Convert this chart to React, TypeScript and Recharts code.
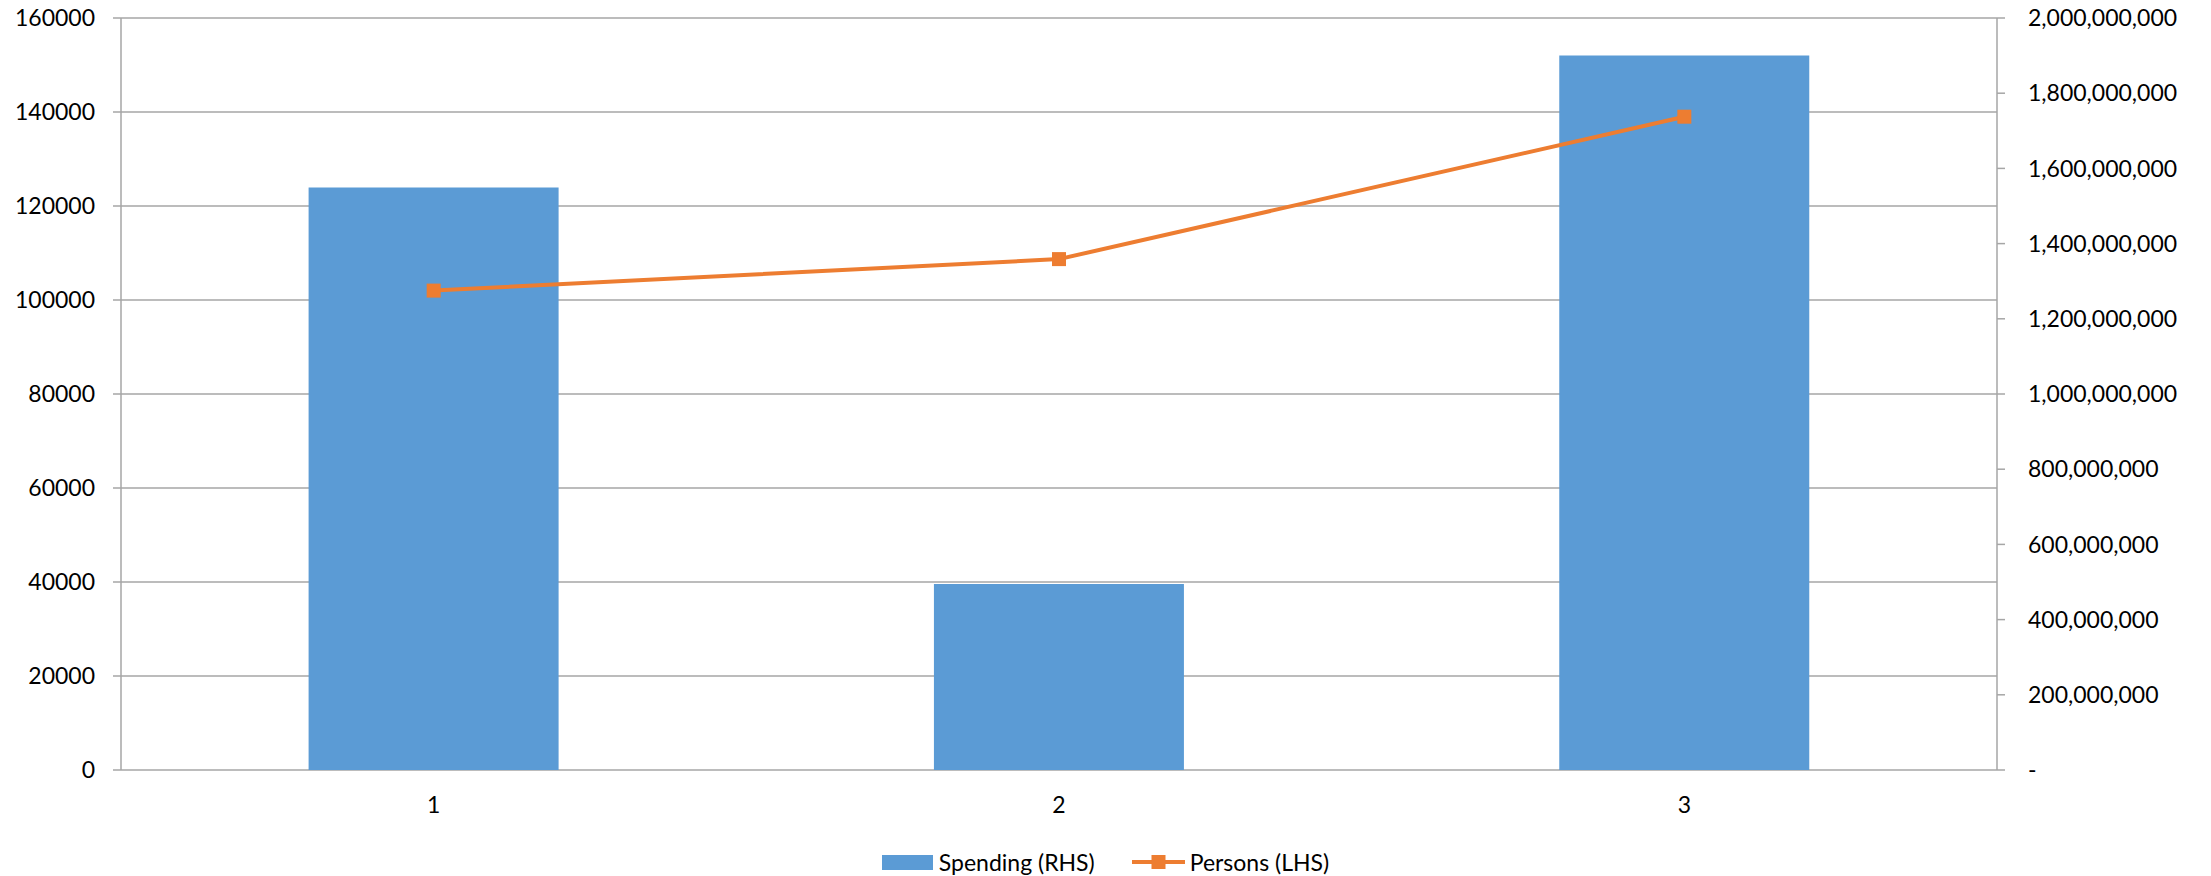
import React from 'react';
import {
  ComposedChart,
  Bar,
  Line,
  XAxis,
  YAxis,
  CartesianGrid,
  Legend,
} from 'recharts';

// Period labels along the bottom axis
const categories = ['1', '2', '3'];
// Spending, plotted against the right-hand axis
const spending = [1549000000, 495000000, 1900000000];
// Persons, plotted against the left-hand axis
const persons = [102000, 108700, 139000];

const leftTicks = [0, 20000, 40000, 60000, 80000, 100000, 120000, 140000, 160000];
const rightTicks = [
  0, 200000000, 400000000, 600000000, 800000000, 1000000000, 1200000000, 1400000000,
  1600000000, 1800000000, 2000000000,
];
// Category boundaries where the bottom axis carries its tick marks
const edgeTicks = [0.5, 1.5, 2.5, 3.5];

const SPENDING_NAME = 'Spending (RHS)';
const PERSONS_NAME = 'Persons (LHS)';

const data = categories.map((name, i) => ({
  name,
  spending: spending[i],
  persons: persons[i],
}));

const FONT = 'Lato, "Open Sans", sans-serif';
const BLUE = '#5B9BD5';
const ORANGE = '#ED7D31';
const GRID = '#a6a6a6';

const tickStyle = { fontFamily: FONT, fontSize: 23, fill: '#000' };

const formatRight = (v: number) => (v === 0 ? '-' : v.toLocaleString('en-US'));

const SquareDot = (props: any) => {
  const { cx, cy, index } = props;
  if (cx == null || cy == null) return <g key={`d${index}`} />;
  return <rect key={`d${index}`} x={cx - 7} y={cy - 7} width={14} height={14} fill={ORANGE} />;
};

const LegendContent = () => (
  <div
    style={{
      display: 'flex',
      justifyContent: 'center',
      alignItems: 'center',
      fontFamily: FONT,
      fontSize: 23,
      color: '#000',
      height: 30,
      lineHeight: '30px',
    }}
  >
    <svg width={51} height={15} style={{ display: 'block' }}>
      <rect x={0} y={0} width={51} height={15} fill={BLUE} />
    </svg>
    <span style={{ marginLeft: 6 }}>{SPENDING_NAME}</span>
    <svg width={53} height={16} style={{ display: 'block', marginLeft: 37 }}>
      <line x1={0} y1={8} x2={53} y2={8} stroke={ORANGE} strokeWidth={4} />
      <rect x={19.5} y={1} width={14} height={14} fill={ORANGE} />
    </svg>
    <span style={{ marginLeft: 5 }}>{PERSONS_NAME}</span>
  </div>
);

export default function App() {
  return (
    <div style={{ position: 'absolute', left: 0, top: 0, background: '#fff' }}>
      <ComposedChart
        width={2211}
        height={876}
        data={data}
        margin={{ top: 18, right: 0, left: 0, bottom: 16 }}
        barCategoryGap="30%"
      >
        <CartesianGrid
          yAxisId="left"
          vertical={false}
          stroke={GRID}
          strokeWidth={1.5}
        />
        <XAxis
          xAxisId="edges"
          type="number"
          domain={[0.5, 3.5]}
          ticks={edgeTicks}
          tick={false}
          tickSize={8}
          tickLine={{ stroke: GRID, strokeWidth: 1.5 }}
          axisLine={{ stroke: GRID, strokeWidth: 1.5 }}
          height={0}
          allowDataOverflow
        />
        <XAxis
          dataKey="name"
          tick={tickStyle}
          tickLine={false}
          tickSize={0}
          tickMargin={27}
          axisLine={false}
          height={60}
          interval={0}
        />
        <YAxis
          yAxisId="left"
          domain={[0, 160000]}
          ticks={leftTicks}
          interval={0}
          width={121}
          tick={tickStyle}
          tickSize={8}
          tickMargin={18}
          tickLine={{ stroke: GRID, strokeWidth: 1.5 }}
          axisLine={{ stroke: GRID, strokeWidth: 1.5 }}
        />
        <YAxis
          yAxisId="right"
          orientation="right"
          domain={[0, 2000000000]}
          ticks={rightTicks}
          interval={0}
          width={214}
          tick={{ ...tickStyle, textAnchor: 'start' }}
          tickFormatter={formatRight}
          tickSize={8}
          tickMargin={23}
          tickLine={{ stroke: GRID, strokeWidth: 1.5 }}
          axisLine={{ stroke: GRID, strokeWidth: 1.5 }}
        />
        <Bar
          yAxisId="right"
          dataKey="spending"
          name={SPENDING_NAME}
          fill={BLUE}
          isAnimationActive={false}
        />
        <Line
          yAxisId="left"
          dataKey="persons"
          name={PERSONS_NAME}
          stroke={ORANGE}
          strokeWidth={4}
          dot={SquareDot}
          activeDot={false}
          isAnimationActive={false}
        />
        <Legend
          verticalAlign="bottom"
          content={LegendContent}
          wrapperStyle={{ top: 847, left: 0, width: 2211, height: 30 }}
        />
      </ComposedChart>
    </div>
  );
}
